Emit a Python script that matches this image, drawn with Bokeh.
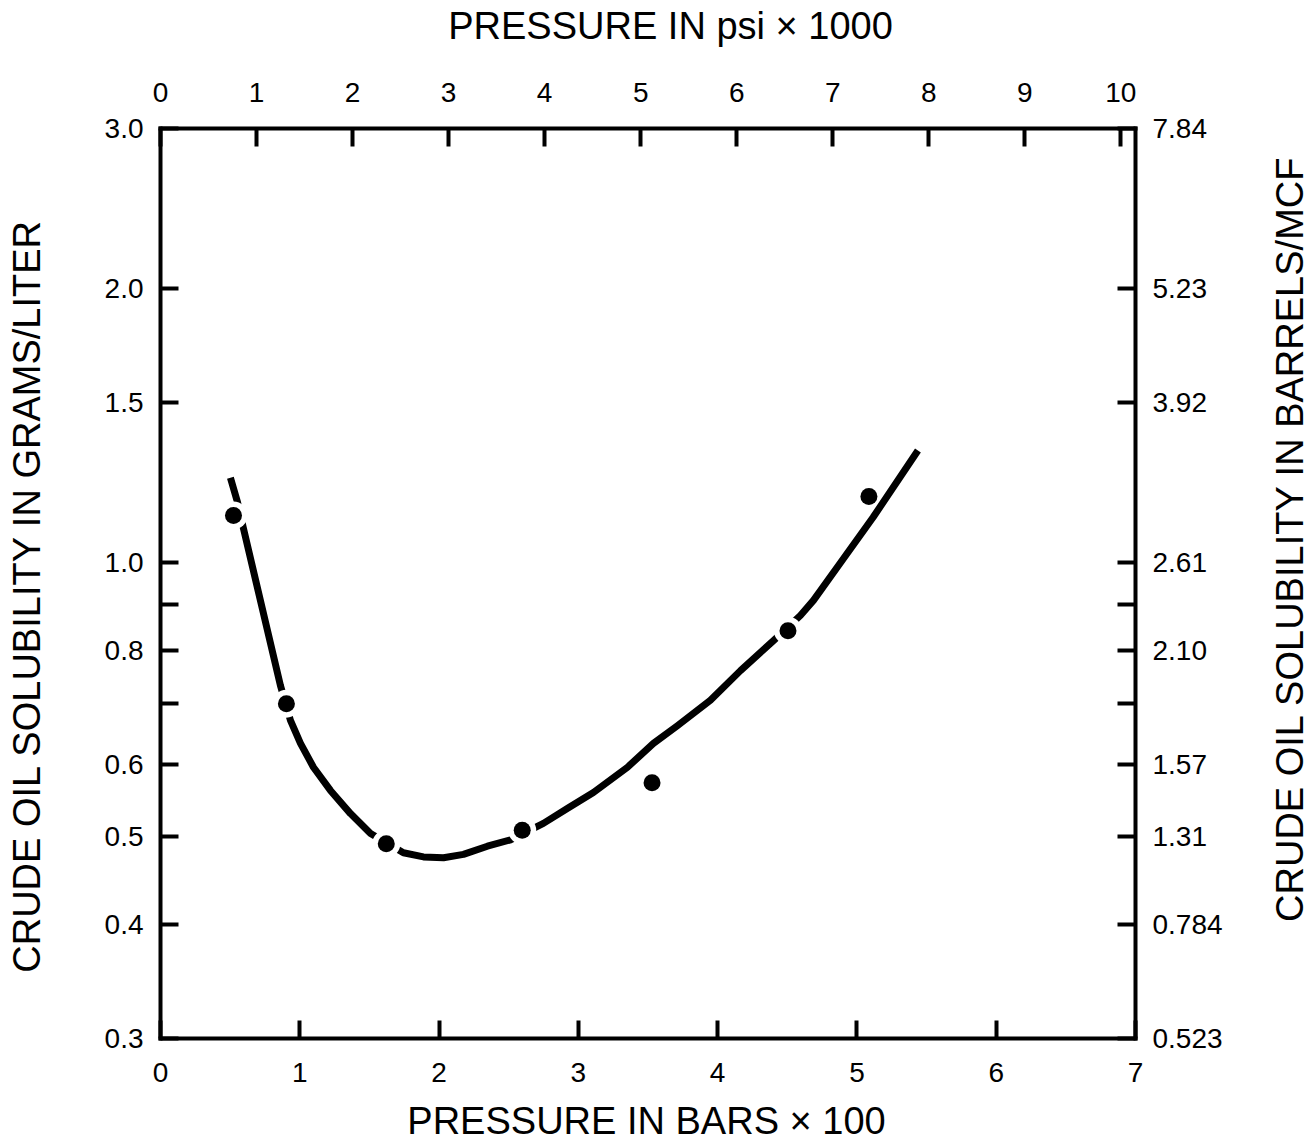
import math
from bokeh.plotting import figure
from bokeh.models import Range1d, LinearAxis, LogAxis, FixedTicker, Label
from bokeh.layouts import row, column
from bokeh.embed import file_html
from bokeh.resources import INLINE

# ---------------- data ----------------
bar_ticks = [0, 1, 2, 3, 4, 5, 6, 7]                      # pressure, bars x 100
psi_ticks = [0, 1, 2, 3, 4, 5, 6, 7, 8, 9, 10]            # pressure, psi x 1000
gl_ticks = [0.3, 0.4, 0.5, 0.6, 0.8, 1.0, 1.5, 2.0, 3.0]  # grams/liter
gl_minor = [0.7, 0.9]
barrel_labels = ["0.523", "0.784", "1.31", "1.57", "2.10", "2.61", "3.92", "5.23", "7.84"]

point_bars = [0.524, 0.904, 1.621, 2.597, 3.529, 4.505, 5.086]
point_sol = [1.127, 0.700, 0.491, 0.508, 0.573, 0.842, 1.182]

curve_bars = [0.502, 0.553, 0.594, 0.861, 0.933, 1.005, 1.098, 1.220, 1.364, 1.508,
              1.744, 1.888, 2.032, 2.175, 2.347, 2.513, 2.749, 2.929, 3.108, 3.353,
              3.539, 3.711, 3.948, 4.164, 4.401, 4.594, 4.688, 4.878, 5.115, 5.438]
curve_sol = [1.240, 1.165, 1.093, 0.733, 0.671, 0.633, 0.596, 0.562, 0.530, 0.504,
             0.480, 0.475, 0.474, 0.478, 0.488, 0.496, 0.517, 0.538, 0.559, 0.596,
             0.633, 0.662, 0.706, 0.761, 0.821, 0.875, 0.909, 0.998, 1.121, 1.328]

gap_at = [0, 1, 2, 3, 5]   # points that break the drawn curve
PSI_PER_BAR = 14.50377

title_top = "PRESSURE IN psi × 1000"
title_bottom = "PRESSURE IN BARS × 100"
title_left = "CRUDE OIL SOLUBILITY IN GRAMS/LITER"
title_right = "CRUDE OIL SOLUBILITY IN BARRELS/MCF"

FONT = "Liberation Sans"

# ---------------- layout sizes (px) ----------------
W_LEFT, W_MAIN, W_RIGHT = 60, 1200, 55
H_TOP, H_MID, H_BOT = 60, 1036, 46
W_ALL = W_LEFT + W_MAIN + W_RIGHT

p = figure(width=W_MAIN, height=H_MID, output_backend="svg", toolbar_location=None,
           y_axis_type="log", x_range=Range1d(0, 7), y_range=Range1d(0.3, 3.0),
           min_border_left=100, min_border_right=125, min_border_top=68, min_border_bottom=58)
p.outline_line_color = None
p.xgrid.visible = False
p.ygrid.visible = False
p.background_fill_color = "white"
p.border_fill_color = "white"
p.extra_x_ranges = {"psi": Range1d(0, 7 * PSI_PER_BAR / 10.0)}


def style(ax, standoff):
    ax.axis_line_width = 4
    ax.axis_line_color = "black"
    ax.axis_line_cap = "square"
    ax.major_tick_in = 18
    ax.major_tick_out = 0
    ax.major_tick_line_width = 4
    ax.major_tick_line_color = "black"
    ax.minor_tick_in = 18
    ax.minor_tick_out = 0
    ax.minor_tick_line_width = 4
    ax.minor_tick_line_color = "black"
    ax.major_label_text_font = FONT
    ax.major_label_text_font_size = "28px"
    ax.major_label_text_color = "black"
    ax.major_label_standoff = standoff


# bottom axis (bars x 100)
xb = p.xaxis[0]
xb.ticker = FixedTicker(ticks=bar_ticks)
xb.major_label_overrides = {t: str(t) for t in bar_ticks}
style(xb, 24)

# left axis (grams/liter)
yl = p.yaxis[0]
yl.ticker = FixedTicker(ticks=gl_ticks, minor_ticks=gl_minor)
yl.major_label_overrides = {t: f"{t:.1f}" for t in gl_ticks}
style(yl, 17)

# top axis (psi x 1000)
xt = LinearAxis(x_range_name="psi", ticker=FixedTicker(ticks=psi_ticks))
xt.major_label_overrides = {t: str(t) for t in psi_ticks}
style(xt, 27)
p.add_layout(xt, "above")

# right axis (barrels/MCF)
yr = LogAxis(ticker=FixedTicker(ticks=gl_ticks, minor_ticks=gl_minor))
yr.major_label_overrides = dict(zip(gl_ticks, barrel_labels))
style(yr, 17)
p.add_layout(yr, "right")

# curve, gaps around points, points
p.line(curve_bars, curve_sol, line_width=7, line_color="black",
       line_cap="butt", line_join="round")
p.scatter([point_bars[i] for i in gap_at], [point_sol[i] for i in gap_at],
          size=28, fill_color="white", line_color=None)
p.scatter(point_bars, point_sol, size=17, fill_color="black", line_color=None)


# ---------------- axis titles (in their own strips) ----------------
def title_strip(w, h, cx, cy, text, angle=0.0):
    f = figure(width=w, height=h, output_backend="svg", toolbar_location=None,
               x_range=Range1d(0, w), y_range=Range1d(0, h),
               x_axis_location=None, y_axis_location=None, min_border=0)
    f.outline_line_color = None
    f.grid.visible = False
    f.background_fill_color = "white"
    f.border_fill_color = "white"
    f.add_layout(Label(x=cx, y=cy, text=text, angle=angle,
                       text_font=FONT, text_font_size="38px", text_color="black",
                       text_align="center", text_baseline="middle"))
    return f


top = title_strip(W_ALL, H_TOP, 670, H_TOP - 25, title_top)
bottom = title_strip(W_ALL, H_BOT, 646, 22, title_bottom)
left = title_strip(W_LEFT, H_MID, 26, H_MID - 532, title_left, math.pi / 2)
right = title_strip(W_RIGHT, H_MID, 29, H_MID - 467, title_right, math.pi / 2)

layout = column(top, row(left, p, right), bottom)

open("out.html", "w").write(file_html(layout, INLINE))
